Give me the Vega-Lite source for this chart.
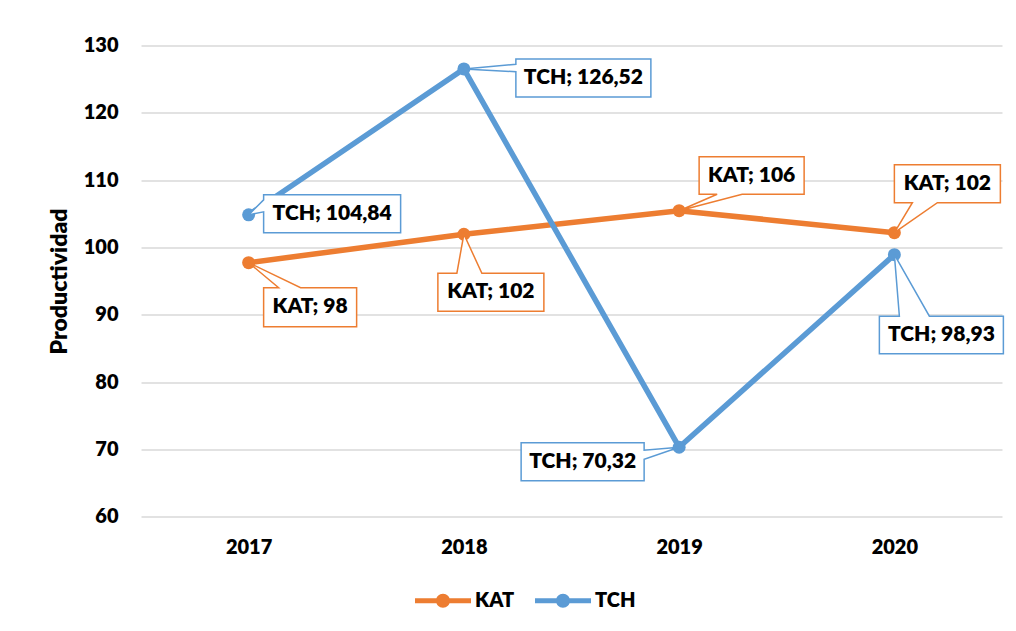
{
  "$schema": "https://vega.github.io/schema/vega-lite/v6.json",
  "autosize": {"type": "none"},
  "width": 861,
  "height": 471.2,
  "padding": {"left": 141, "top": 45.5, "right": 14, "bottom": 114.3},
  "background": "white",
  "config": {
    "view": {"stroke": null},
    "font": "Lato",
    "text": {"font": "Lato"}
  },
  "data": {
    "values": [
      {"year": "2017", "series": "KAT", "key": "KAT2017", "value": 97.74, "label": "KAT; 98"},
      {"year": "2018", "series": "KAT", "key": "KAT2018", "value": 101.96, "label": "KAT; 102"},
      {"year": "2019", "series": "KAT", "key": "KAT2019", "value": 105.46, "label": "KAT; 106"},
      {"year": "2020", "series": "KAT", "key": "KAT2020", "value": 102.19, "label": "KAT; 102"},
      {"year": "2017", "series": "TCH", "key": "TCH2017", "value": 104.84, "label": "TCH; 104,84"},
      {"year": "2018", "series": "TCH", "key": "TCH2018", "value": 126.52, "label": "TCH; 126,52"},
      {"year": "2019", "series": "TCH", "key": "TCH2019", "value": 70.32, "label": "TCH; 70,32"},
      {"year": "2020", "series": "TCH", "key": "TCH2020", "value": 98.93, "label": "TCH; 98,93"}
    ]
  },
  "encoding": {
    "x": {
      "field": "year", "type": "ordinal",
      "scale": {"type": "point", "padding": 0.5},
      "axis": {
        "title": null, "ticks": false, "domain": false, "grid": false,
        "labelAngle": 0, "labelFont": "Lato", "labelFontWeight": 800, "labelFontSize": 20,
        "labelColor": "#000000", "labelBaseline": "middle", "labelPadding": 31
      }
    },
    "y": {
      "field": "value", "type": "quantitative",
      "scale": {"domain": [60, 130], "nice": false, "zero": false},
      "axis": {
        "title": "Productividad", "values": [60, 70, 80, 90, 100, 110, 120, 130],
        "ticks": false, "domain": false,
        "gridColor": "#D9D9D9", "gridWidth": 1.4,
        "labelFont": "Lato", "labelFontWeight": 800, "labelFontSize": 20, "labelColor": "#000000",
        "labelPadding": 23,
        "titleFont": "Lato", "titleFontWeight": 800, "titleFontSize": 23, "titleColor": "#000000",
        "titleAngle": -90, "titleAlign": "center", "titleBaseline": "alphabetic",
        "titleX": -74.5, "titleY": 235.5
      }
    }
  },
  "layer": [
    {
      "mark": {"type": "line", "strokeWidth": 5.5, "point": {"filled": true, "size": 169, "opacity": 1}},
      "encoding": {
        "color": {
          "field": "series", "type": "nominal",
          "scale": {"domain": ["KAT", "TCH"], "range": ["#ED7D31", "#5B9BD5"]},
          "legend": {
            "title": null, "orient": "none", "direction": "horizontal",
            "legendX": 274, "legendY": 527.2, "padding": 0,
            "symbolType": "M-1,-0.089L1,-0.089L1,0.089L-1,0.089Z M0.25,0 A0.25,0.25 0 1 1 -0.25,0 A0.25,0.25 0 1 1 0.25,0 Z",
            "symbolSize": 3136, "symbolStrokeWidth": 0,
            "labelFont": "Lato", "labelFontWeight": 800, "labelFontSize": 20, "labelColor": "#000000",
            "labelOffset": 4, "columnPadding": 20,
            "encode": {"symbols": {"update": {"fill": {"scale": "color", "field": "value"}, "strokeWidth": {"value": 0}, "opacity": {"value": 1}}}}
          }
        }
      }
    },
    {
      "mark": {"type": "point", "filled": true, "fill": "white", "size": 4, "strokeWidth": 1.5, "opacity": 1},
      "encoding": {
        "shape": {
          "field": "key", "type": "nominal", "legend": null,
          "scale": {
            "domain": ["TCH2018", "TCH2017", "KAT2017", "KAT2018", "KAT2019", "KAT2020", "TCH2020", "TCH2019"],
            "range": [
              "M52,-10L187,-10L187,28L52,28L52,2.8L0,0L52,-4.6Z",
              "M15,-20L152,-20L152,18L15,18L15,-3L0,0L15,-15Z",
              "M15,25L30,25L0,0L52,25L108,25L108,64L15,64Z",
              "M-26,39L-7,39L0,0L18,39L80,39L80,77L-26,77Z",
              "M20,-54L125,-54L125,-16.5L63,-16.5L0,0L38,-16.5L20,-16.5Z",
              "M0,-68L106,-68L106,-30L43,-30L0,0L18,-30L0,-30Z",
              "M-15,61.5L5,61.5L0,0L35,61.5L109,61.5L109,99L-15,99Z",
              "M-158,-4.5L-35,-4.5L-35,3L0,0L-35,12L-35,33.5L-158,33.5Z"
            ]
          }
        },
        "stroke": {
          "field": "series", "type": "nominal", "legend": null,
          "scale": {"domain": ["KAT", "TCH"], "range": ["#ED7D31", "#5B9BD5"]}
        }
      }
    },
    {
      "transform": [{"filter": "datum.key === 'TCH2018'"}],
      "mark": {"type": "text", "dx": 119.5, "dy": 9, "align": "center", "baseline": "middle", "font": "Lato", "fontWeight": 800, "fontSize": 21, "color": "#000000"},
      "encoding": {"text": {"field": "label"}}
    },
    {
      "transform": [{"filter": "datum.key === 'TCH2017'"}],
      "mark": {"type": "text", "dx": 83.5, "dy": -1, "align": "center", "baseline": "middle", "font": "Lato", "fontWeight": 800, "fontSize": 21, "color": "#000000"},
      "encoding": {"text": {"field": "label"}}
    },
    {
      "transform": [{"filter": "datum.key === 'KAT2017'"}],
      "mark": {"type": "text", "dx": 61.5, "dy": 44.5, "align": "center", "baseline": "middle", "font": "Lato", "fontWeight": 800, "fontSize": 21, "color": "#000000"},
      "encoding": {"text": {"field": "label"}}
    },
    {
      "transform": [{"filter": "datum.key === 'KAT2018'"}],
      "mark": {"type": "text", "dx": 27, "dy": 58, "align": "center", "baseline": "middle", "font": "Lato", "fontWeight": 800, "fontSize": 21, "color": "#000000"},
      "encoding": {"text": {"field": "label"}}
    },
    {
      "transform": [{"filter": "datum.key === 'KAT2019'"}],
      "mark": {"type": "text", "dx": 72.5, "dy": -35, "align": "center", "baseline": "middle", "font": "Lato", "fontWeight": 800, "fontSize": 21, "color": "#000000"},
      "encoding": {"text": {"field": "label"}}
    },
    {
      "transform": [{"filter": "datum.key === 'KAT2020'"}],
      "mark": {"type": "text", "dx": 53, "dy": -49, "align": "center", "baseline": "middle", "font": "Lato", "fontWeight": 800, "fontSize": 21, "color": "#000000"},
      "encoding": {"text": {"field": "label"}}
    },
    {
      "transform": [{"filter": "datum.key === 'TCH2020'"}],
      "mark": {"type": "text", "dx": 47, "dy": 80, "align": "center", "baseline": "middle", "font": "Lato", "fontWeight": 800, "fontSize": 21, "color": "#000000"},
      "encoding": {"text": {"field": "label"}}
    },
    {
      "transform": [{"filter": "datum.key === 'TCH2019'"}],
      "mark": {"type": "text", "dx": -96.5, "dy": 14.5, "align": "center", "baseline": "middle", "font": "Lato", "fontWeight": 800, "fontSize": 21, "color": "#000000"},
      "encoding": {"text": {"field": "label"}}
    }
  ]
}
